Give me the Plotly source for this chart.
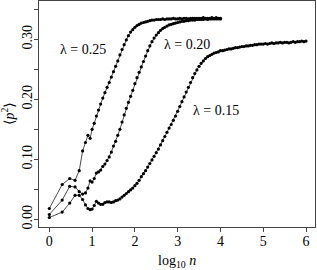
import plotly.graph_objects as go

# log10 n sample positions
log_n = [0, 0.301, 0.477, 0.602, 0.699, 0.778, 0.845, 0.903, 0.954,
         1.00, 1.05, 1.10, 1.15, 1.20, 1.25, 1.30, 1.35, 1.40, 1.45,
         1.50, 1.55, 1.60, 1.65, 1.70, 1.75, 1.80, 1.85, 1.90, 1.95,
         2.00, 2.05, 2.10, 2.15, 2.20, 2.25, 2.30, 2.35, 2.40, 2.45,
         2.50, 2.55, 2.60, 2.65, 2.70, 2.75, 2.80, 2.85, 2.90, 2.95,
         3.00, 3.05, 3.10, 3.15, 3.20, 3.25, 3.30, 3.35, 3.40, 3.45,
         3.50, 3.55, 3.60, 3.65, 3.70, 3.75, 3.80, 3.85, 3.90, 3.95,
         4.00, 4.05, 4.10, 4.15, 4.20, 4.25, 4.30, 4.35, 4.40, 4.45,
         4.50, 4.55, 4.60, 4.65, 4.70, 4.75, 4.80, 4.85, 4.90, 4.95,
         5.00, 5.05, 5.10, 5.15, 5.20, 5.25, 5.30, 5.35, 5.40, 5.45,
         5.50, 5.55, 5.60, 5.65, 5.70, 5.75, 5.80, 5.85, 5.90, 5.95,
         6.00]

p2_lambda_025 = [0.018, 0.058, 0.068, 0.065, 0.081, 0.114, 0.128, 0.140, 0.135,
                 0.150, 0.160, 0.172, 0.182, 0.192, 0.202, 0.211, 0.220, 0.228, 0.237,
                 0.246, 0.255, 0.264, 0.274, 0.283, 0.291, 0.299, 0.306, 0.312, 0.316,
                 0.320, 0.323, 0.325, 0.327, 0.328, 0.329, 0.330, 0.331, 0.332, 0.332,
                 0.333, 0.333, 0.333, 0.334, 0.333, 0.334, 0.334, 0.334, 0.335, 0.334,
                 0.334, 0.335, 0.334, 0.335, 0.335, 0.334, 0.335, 0.335, 0.335, 0.335,
                 0.335, 0.335, 0.336, 0.335, 0.335, 0.335, 0.336, 0.335, 0.336, 0.335,
                 0.335]

p2_lambda_020 = [0.008, 0.032, 0.055, 0.054, 0.046, 0.042, 0.044, 0.052, 0.064,
                 0.062, 0.068, 0.077, 0.079, 0.082, 0.088, 0.092, 0.098, 0.104, 0.112,
                 0.122, 0.130, 0.140, 0.150, 0.162, 0.174, 0.185, 0.195, 0.205, 0.215,
                 0.226, 0.236, 0.245, 0.254, 0.263, 0.272, 0.281, 0.289, 0.296, 0.302,
                 0.307, 0.311, 0.315, 0.318, 0.320, 0.322, 0.324, 0.325, 0.326, 0.327,
                 0.328, 0.329, 0.330, 0.330, 0.331, 0.331, 0.332, 0.332, 0.332, 0.333,
                 0.333, 0.333, 0.333, 0.334, 0.333, 0.334, 0.334, 0.334, 0.334, 0.334,
                 0.334]

p2_lambda_015 = [0.003, 0.012, 0.027, 0.040, 0.040, 0.033, 0.024, 0.018, 0.016,
                 0.017, 0.023, 0.030, 0.027, 0.025, 0.025, 0.028, 0.029, 0.029, 0.028,
                 0.029, 0.031, 0.032, 0.034, 0.037, 0.040, 0.043, 0.046, 0.049, 0.052,
                 0.056, 0.060, 0.065, 0.071, 0.076, 0.081, 0.087, 0.093, 0.099, 0.105,
                 0.111, 0.117, 0.124, 0.131, 0.138, 0.145, 0.152, 0.158, 0.165, 0.172,
                 0.180, 0.188, 0.196, 0.204, 0.212, 0.220, 0.228, 0.236, 0.243, 0.249,
                 0.255, 0.260, 0.264, 0.268, 0.271, 0.273, 0.275, 0.277, 0.278, 0.279,
                 0.281, 0.281, 0.282, 0.283, 0.284, 0.284, 0.285, 0.286, 0.286, 0.287,
                 0.288, 0.288, 0.289, 0.289, 0.290, 0.290, 0.291, 0.291, 0.292, 0.292,
                 0.292, 0.293, 0.292, 0.293, 0.294, 0.293, 0.294, 0.294, 0.295, 0.294,
                 0.295, 0.295, 0.294, 0.295, 0.296, 0.295, 0.296, 0.296, 0.297, 0.296,
                 0.297]

series_labels = ["λ = 0.25", "λ = 0.20", "λ = 0.15"]
label_pos = [(0.79, 0.283), (3.22, 0.292), (3.89, 0.182)]

x_ticks = [0, 1, 2, 3, 4, 5, 6]
y_ticks = [0.00, 0.05, 0.10, 0.15, 0.20, 0.25, 0.30, 0.35]
y_ticktext = ["0.00", "", "0.10", "", "0.20", "", "0.30", ""]

FONT = "Liberation Serif, DejaVu Serif, serif"

fig = go.Figure()
for ys in (p2_lambda_025, p2_lambda_020, p2_lambda_015):
    fig.add_trace(go.Scatter(
        x=log_n[:len(ys)], y=ys, mode="lines+markers",
        line=dict(color="black", width=0.7),
        marker=dict(color="black", size=3.2),
        showlegend=False, hoverinfo="skip", cliponaxis=False))

for txt, (lx, ly) in zip(series_labels, label_pos):
    fig.add_annotation(x=lx, y=ly, text=txt, showarrow=False,
                       font=dict(family=FONT, size=14, color="black"))

fig.add_annotation(xref="paper", yref="paper", x=0.5, y=0, yshift=-34,
                   text="log<sub>10</sub> <i>n</i>", showarrow=False,
                   xanchor="center", yanchor="middle",
                   font=dict(family=FONT, size=14, color="black"))
fig.add_annotation(xref="paper", yref="paper", x=0, y=0.5, xshift=-31,
                   text="⟨<i>p</i><sup>2</sup>⟩", showarrow=False, textangle=-90,
                   xanchor="center", yanchor="middle",
                   font=dict(family=FONT, size=14, color="black"))

fig.update_layout(
    width=317, height=270,
    margin=dict(l=39, r=2, t=1, b=43, autoexpand=False),
    paper_bgcolor="white", plot_bgcolor="white",
    font=dict(family=FONT, size=14, color="black"),
    xaxis=dict(range=[-0.241, 6.21], tickvals=x_ticks, ticks="outside",
               ticklen=4, tickwidth=1, tickcolor="#444", showline=True,
               linecolor="#444", linewidth=1, mirror=True, showgrid=False,
               zeroline=False, automargin=False, ticklabelstandoff=-3,
               tickfont=dict(family=FONT, size=14)),
    yaxis=dict(range=[-0.0128, 0.3638], tickvals=y_ticks, ticktext=y_ticktext,
               ticks="outside", ticklen=4, tickwidth=1, tickcolor="#444",
               showline=True, linecolor="#444", linewidth=1, mirror=True,
               showgrid=False, zeroline=False, tickangle=-90, automargin=False,
               ticklabelstandoff=-4,
               tickfont=dict(family=FONT, size=14)),
)

fig.write_html("out.html", config={"displayModeBar": False},
               post_script="document.body.style.margin='0';document.body.style.padding='0';")
